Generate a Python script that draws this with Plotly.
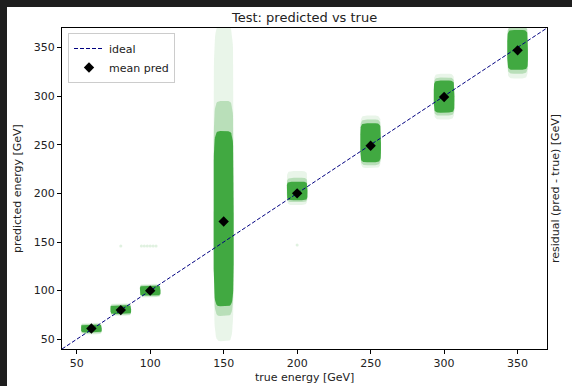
import numpy as np
import plotly.graph_objects as go

# ---- data ----
energies = [60, 80, 100, 150, 200, 250, 300, 350]
mean_pred = [61, 80, 100, 171, 200, 249, 299, 347]
half_width = [7, 7, 7, 6.8, 7, 7, 7, 7]
faint_lo = [55, 74, 93, 48, 188, 226, 276, 318]
faint_hi = [67, 87, 107, 372, 223, 280, 323, 372]
mid_lo = [56, 75, 94, 74, 191, 229, 280, 323]
mid_hi = [66, 86, 106, 295, 216, 276, 319, 372]
core_lo = [57, 76, 95, 84, 193, 232, 283, 327]
core_hi = [65, 85, 105, 264, 212, 272, 316, 368]
outlier_x = [80, 94, 96, 98, 100, 102, 104, 200]
outlier_y = [146, 146, 146, 146, 146, 146, 146, 147]
ideal = [40, 370]
x_ticks = [50, 100, 150, 200, 250, 300, 350]
y_ticks = [50, 100, 150, 200, 250, 300, 350]

GREEN = "44,160,44"
FONT = "DejaVu Sans"

def blob(cx, hw, lo, hi, n=60, p=0.3):
    t = np.linspace(0, 2 * np.pi, n)
    cy = (lo + hi) / 2
    hh = (hi - lo) / 2
    c, s = np.cos(t), np.sin(t)
    xs = cx + hw * np.sign(c) * np.abs(c) ** p
    ys = cy + hh * np.sign(s) * np.abs(s) ** p
    return xs, ys

fig = go.Figure()

for lo_arr, hi_arr, alpha in [(faint_lo, faint_hi, 0.1), (mid_lo, mid_hi, 0.25), (core_lo, core_hi, 0.85)]:
    for e, hw, lo, hi in zip(energies, half_width, lo_arr, hi_arr):
        xs, ys = blob(e, hw, lo, hi)
        fig.add_trace(go.Scatter(x=xs, y=ys, mode="lines", fill="toself",
                                 fillcolor=f"rgba({GREEN},{alpha})",
                                 line=dict(width=0), hoverinfo="skip", showlegend=False))

fig.add_trace(go.Scatter(x=outlier_x, y=outlier_y, mode="markers",
                         marker=dict(color=f"rgba({GREEN},0.15)", size=3),
                         showlegend=False, hoverinfo="skip"))

fig.add_trace(go.Scatter(x=ideal, y=ideal, mode="lines", name="ideal",
                         line=dict(color="#000080", width=1, dash="4px,2px")))
fig.add_trace(go.Scatter(x=energies, y=mean_pred, mode="markers", name="mean pred",
                         marker=dict(symbol="diamond", color="black", size=8)))

L, R, T, B = 62, 25, 28, 37
W, H = 572, 386
pw, ph = W - L - R, H - T - B

def px2x(px):
    return (px - L) / pw

def px2y(py):
    return (H - B - py) / ph

axis_common = dict(showline=True, mirror=True, linecolor="black", linewidth=1,
                   ticks="outside", ticklen=4, tickcolor="black", showgrid=False,
                   zeroline=False, tickfont=dict(family=FONT, size=11, color="#222"))

fig.update_layout(
    width=W, height=H,
    margin=dict(l=L, r=R, t=T, b=B),
    paper_bgcolor="white", plot_bgcolor="white",
    xaxis=dict(range=ideal, tickvals=x_ticks, **axis_common),
    yaxis=dict(range=ideal, tickvals=y_ticks, **axis_common),
    showlegend=True,
    legend=dict(x=px2x(68), y=px2y(33), xanchor="left", yanchor="top",
                bgcolor="rgba(255,255,255,0.8)", bordercolor="#cccccc", borderwidth=1,
                font=dict(family=FONT, size=11, color="#222"),
                itemwidth=30, tracegroupgap=0),
    shapes=[
        dict(type="rect", xref="paper", yref="paper", x0=px2x(-5), x1=px2x(7),
             y0=px2y(H + 5), y1=px2y(-5), fillcolor="#1e1e1e", line=dict(width=0), layer="above"),
        dict(type="rect", xref="paper", yref="paper", x0=px2x(-5), x1=px2x(W + 5),
             y0=px2y(7), y1=px2y(-5), fillcolor="#1e1e1e", line=dict(width=0), layer="above"),
    ],
    annotations=[
        dict(text="Test: predicted vs true", xref="paper", yref="paper", x=px2x(304), y=px2y(17),
             showarrow=False, xanchor="center", yanchor="middle",
             font=dict(family=FONT, size=13, color="#222")),
        dict(text="true energy [GeV]", xref="paper", yref="paper", x=0.5, y=px2y(377),
             showarrow=False, xanchor="center", yanchor="middle",
             font=dict(family=FONT, size=11, color="#222")),
        dict(text="predicted energy [GeV]", xref="paper", yref="paper", x=px2x(18), y=px2y(189),
             showarrow=False, xanchor="center", yanchor="middle", textangle=-90,
             font=dict(family=FONT, size=11, color="#222")),
        dict(text="residual (pred - true) [GeV]", xref="paper", yref="paper", x=px2x(556), y=px2y(189),
             showarrow=False, xanchor="center", yanchor="middle", textangle=-90,
             font=dict(family=FONT, size=11, color="#222")),
    ],
)

fig.write_html("out.html")
